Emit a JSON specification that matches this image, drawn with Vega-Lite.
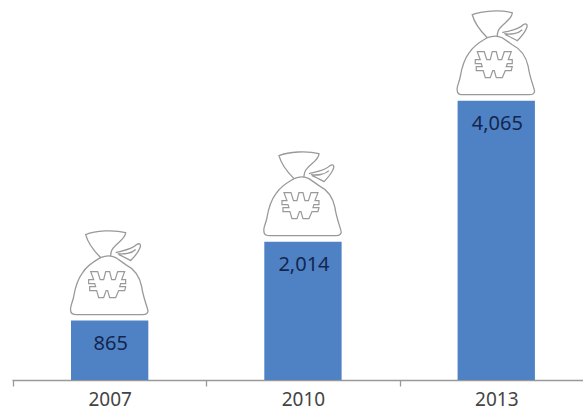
{"$schema":"https://vega.github.io/schema/vega-lite/v6.json","width":571,"height":380,"autosize":{"type":"none"},"padding":{"left":12,"top":0,"right":0,"bottom":31},"background":"white","config":{"view":{"stroke":null}},"data":{"values":[{"year":"2007","value":865,"label":"865"},{"year":"2010","value":2014,"label":"2,014"},{"year":"2013","value":4065,"label":"4,065"}]},"encoding":{"x":{"field":"year","type":"nominal","sort":null,"scale":{"paddingInner":0.6,"paddingOuter":0.277,"align":0.551},"axis":{"title":null,"labelAngle":0,"labelFont":"Noto Sans","labelFontSize":19,"labelColor":"#444444","labelPadding":4,"labelOffset":96.7,"tickBand":"center","tickOffset":-96.7,"tickColor":"#999999","tickSize":6,"tickWidth":1.3,"domainColor":"#999999","domainWidth":1.5,"grid":false}},"y":{"field":"value","type":"quantitative","scale":{"domain":[0,5531],"nice":false},"axis":null}},"layer":[{"mark":{"type":"bar","color":"#4f82c5"}},{"mark":{"type":"point","filled":false,"fill":"white","fillOpacity":0,"stroke":"#999999","strokeWidth":1.3,"opacity":1,"size":4,"shape":"M-9 -63C-14 -60 -22 -56 -27 -48C-33 -40 -35 -30 -36 -24C-37 -18 -40 -14 -39 -10C-39 -7 -37 -6 -33 -6L33 -6C37 -6 39 -8 38 -11C36 -18 33 -26 32 -34C30 -44 24 -52 16 -56L6 -63C2 -65 -4 -65 -9 -63ZM-9 -63C-14 -68 -21 -75 -24 -86C-14 -90 4 -91 16 -88C16 -82 8 -78 4 -73C1 -70 1 -66 1 -64M6 -68C14 -70 22 -71 27 -76C30 -78 32 -76 30 -72C28 -67 24 -63 21 -60C17 -62 12 -65 9 -66M8 -67C14 -66 22 -67 26 -71"}},{"mark":{"type":"point","filled":false,"fill":"white","fillOpacity":0,"stroke":"#999999","strokeWidth":1.2,"opacity":1,"size":4,"shape":"M-19 -49L-12 -49L-9.5 -41L-6 -41L-4 -49L0 -49L2 -41L5.5 -41L8 -49L15 -49L12 -41L16 -41L16 -37L11 -37L10 -34L16 -34L15 -30L9 -30L6 -23L0 -23L-2 -30L-3.5 -30L-6 -23L-11 -23L-13 -30L-20 -30L-20 -34L-14 -34L-15 -37L-21 -37L-21 -41L-16 -41Z"}},{"mark":{"type":"text","baseline":"middle","align":"center","dy":23,"dx":1,"font":"Noto Sans","fontSize":20,"color":"#14264d"},"encoding":{"text":{"field":"label"}}}]}
